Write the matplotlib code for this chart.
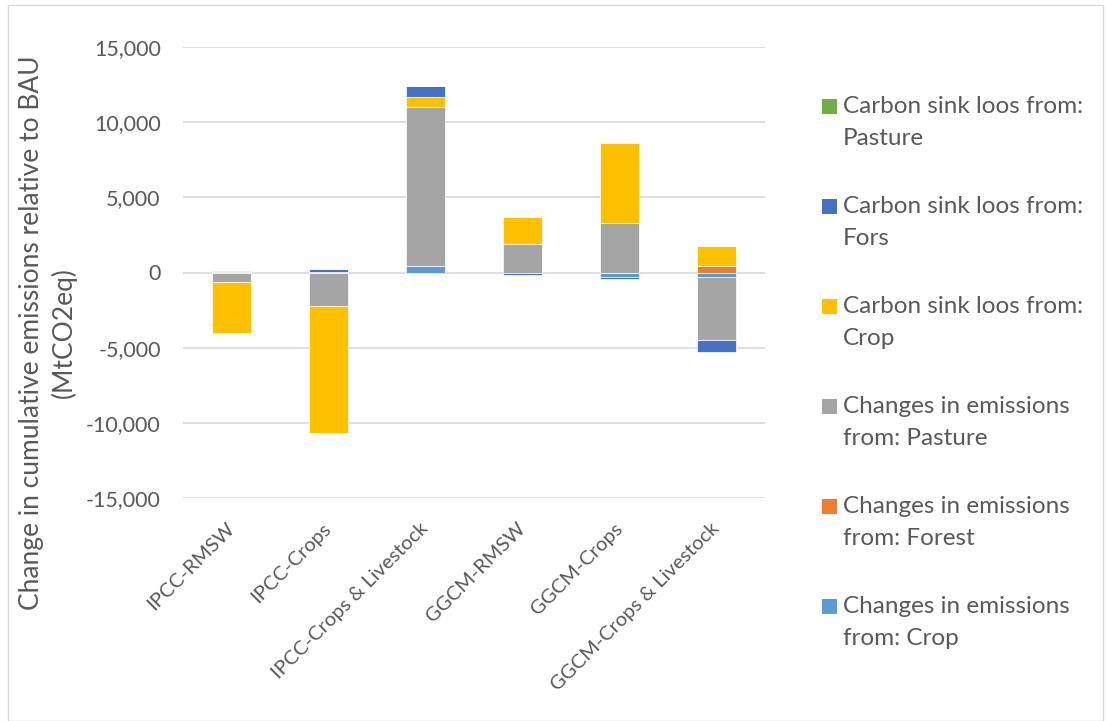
"""
Stacked bar chart: change in cumulative emissions relative to BAU.
"""
import matplotlib.pyplot as plt
import numpy as np
from matplotlib.patches import Rectangle

plt.rcParams["font.family"] = ["Lato", "DejaVu Sans"]

categories = [
    "IPCC-RMSW",
    "IPCC-Crops",
    "IPCC-Crops & Livestock",
    "GGCM-RMSW",
    "GGCM-Crops",
    "GGCM-Crops & Livestock",
]

# values in MtCO2eq
em_crop = [30, 50, 450, -50, -270, -300]
em_forest = [0, 0, 0, 0, 0, 400]
em_pasture = [-650, -2250, 10550, 1900, 3300, -4200]
sink_crop = [-3350, -8450, 700, 1800, 5300, 1380]
sink_forest = [20, 150, 700, -100, -130, -800]
sink_pasture = [80, 0, 0, 0, 0, 0]

series_names = [
    "Changes in emissions\nfrom: Crop",
    "Changes in emissions\nfrom: Forest",
    "Changes in emissions\nfrom: Pasture",
    "Carbon sink loos from:\nCrop",
    "Carbon sink loos from:\nFors",
    "Carbon sink loos from:\nPasture",
]
series_values = [em_crop, em_forest, em_pasture, sink_crop, sink_forest, sink_pasture]
colors = ["#5B9BD5", "#ED7D31", "#A5A5A5", "#FFC000", "#4472C4", "#70AD47"]
text_col = "#595959"

W, H = 1106, 721
fig = plt.figure(figsize=(W / 100, H / 100), dpi=100)
ax = fig.add_axes([183 / W, 1 - 498 / H, 582 / W, 451 / H])

x = np.arange(len(categories))
pos_base = np.zeros(len(categories))
neg_base = np.zeros(len(categories))
for name, vals, col in zip(series_names, series_values, colors):
    vals = np.array(vals, dtype=float)
    bottoms = np.where(vals >= 0, pos_base, neg_base)
    ax.bar(x, vals, 0.4, bottom=bottoms, color=col, label=name,
           edgecolor="white", linewidth=0.5, zorder=3)
    pos_base += np.clip(vals, 0, None)
    neg_base += np.clip(vals, None, 0)

ax.set_ylim(-15000, 15000)
ax.set_xlim(-0.5, len(categories) - 0.5)
ax.set_yticks(np.arange(-15000, 15001, 5000))
ax.yaxis.set_major_formatter(plt.FuncFormatter(lambda v, p: f"{v:,.0f}"))
ax.grid(axis="y", color="#D9D9D9", linewidth=1.2, zorder=0)
for s in ax.spines.values():
    s.set_visible(False)
ax.tick_params(length=0, colors=text_col)
ax.tick_params(axis="y", pad=16, labelsize=15.5)
ax.tick_params(axis="x", pad=20)
ax.set_xticks(x)
ax.set_xticklabels(categories, rotation=45, ha="right", va="center",
                   rotation_mode="anchor", fontsize=14.5)
ax.set_ylabel("Change in cumulative emissions relative to BAU\n(MtCO2eq)",
              fontsize=19, color=text_col, linespacing=1.35)
ax.yaxis.set_label_coords(-0.182, 0.366)

# legend drawn by hand so the square sits on the first line, as in Excel
for i, (name, col) in enumerate(zip(series_names[::-1], colors[::-1])):
    top = 99 + 100 * i
    fig.add_artist(Rectangle((822 / W, 1 - (top + 15) / H), 15 / W, 15 / H,
                             transform=fig.transFigure, facecolor=col,
                             edgecolor="none"))
    for j, line in enumerate(name.split("\n")):
        fig.text(843 / W, 1 - (113 + 100 * i + 32 * j) / H, line,
                 fontsize=17.5, color=text_col, va="baseline", ha="left")

fig.add_artist(Rectangle((0.007, 0.0), 0.99, 0.993, transform=fig.transFigure,
                         fill=False, edgecolor="#D9D9D9", linewidth=1))

fig.savefig("out.png", dpi=100)
